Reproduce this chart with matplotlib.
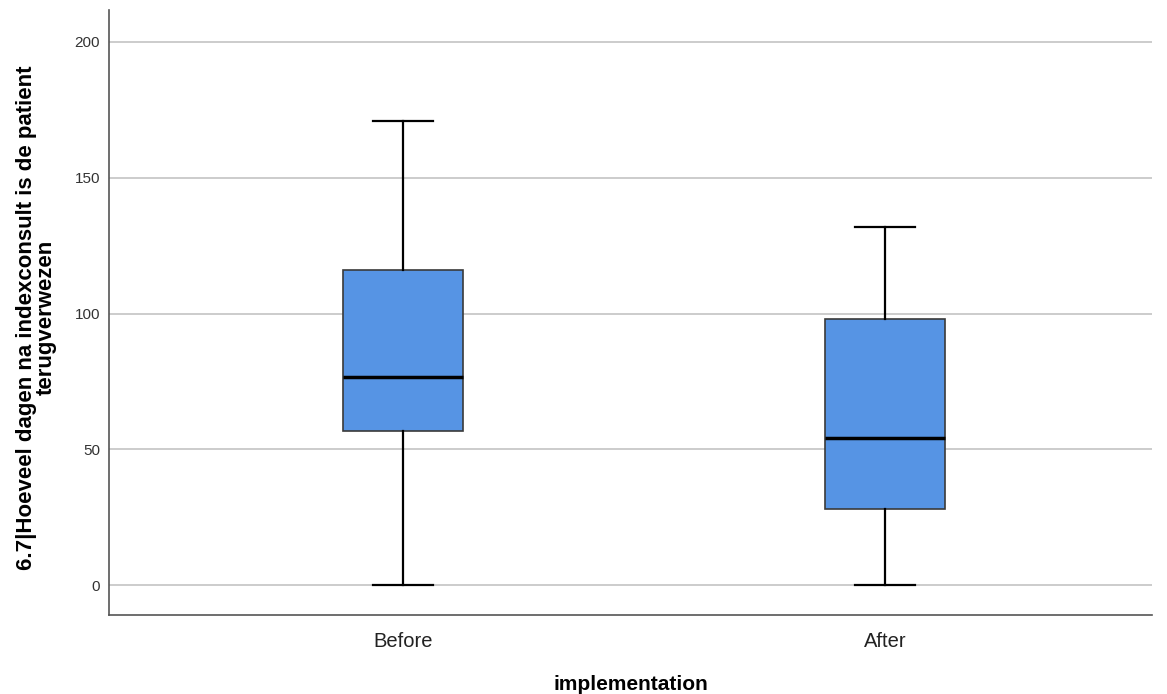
import matplotlib
matplotlib.use('Agg')
import matplotlib.pyplot as plt

plt.rcParams['font.family'] = ['Liberation Sans', 'DejaVu Sans']

# summary statistics per group (days until referral back)
groups = ['Before', 'After']
whisker_low = [0, 0]
q1 = [56.7, 28.0]
median = [76.6, 54.1]
q3 = [116.0, 98.0]
whisker_high = [171.0, 132.0]

yticks = [0, 50, 100, 150, 200]

stats = []
for i in range(len(groups)):
    stats.append({'label': groups[i], 'whislo': whisker_low[i], 'q1': q1[i],
                  'med': median[i], 'q3': q3[i], 'whishi': whisker_high[i],
                  'fliers': []})

fig = plt.figure(figsize=(11.67, 6.94), dpi=100)
ax = fig.add_axes([0.0934, 0.1138, 0.894, 0.872])

ax.bxp(stats, positions=[1, 2], widths=0.249, patch_artist=True,
       showfliers=False,
       boxprops=dict(facecolor='#5694e4', edgecolor='#3a3a3a', linewidth=1.2),
       medianprops=dict(color='black', linewidth=2.5),
       whiskerprops=dict(color='black', linewidth=1.6),
       capprops=dict(color='black', linewidth=1.6),
       capwidths=0.125, zorder=3)

ax.set_xlim(0.39, 2.554)
ax.set_ylim(-11, 211.8)
ax.set_yticks(yticks)
ax.yaxis.grid(True, color='#c8c8c8', linewidth=1.3)
ax.set_axisbelow(True)

for side in ['top', 'right']:
    ax.spines[side].set_visible(False)
for side in ['left', 'bottom']:
    ax.spines[side].set_color('#555555')
    ax.spines[side].set_linewidth(1.2)

ax.tick_params(axis='y', length=0, pad=6.5, labelsize=11, labelcolor='#333333')
ax.tick_params(axis='x', length=0, pad=12, labelsize=14.5, labelcolor='#222222')

ax.set_xlabel('implementation', fontsize=15, fontweight='bold', labelpad=17.5)
ax.set_ylabel('6.7|Hoeveel dagen na indexconsult is de patient\nterugverwezen',
              fontsize=16, fontweight='bold', linespacing=0.95)
ax.yaxis.set_label_coords(-0.05, 0.492)

fig.savefig('out.png', dpi=100)
